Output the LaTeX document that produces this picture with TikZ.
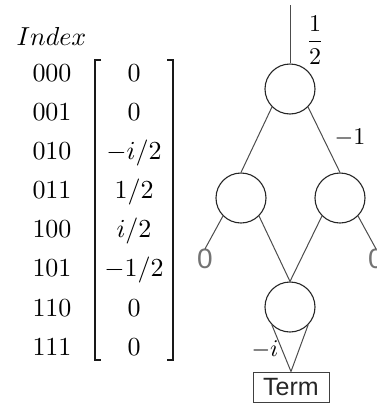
\documentclass[tikz,border=0pt]{standalone}
\usepackage{amsmath}
\usepackage{graphicx}
\usepackage{fontspec}
\newfontfamily\labelsans{Liberation Sans}
% math set at 10pt and enlarged, so the glyphs keep the 10pt design weight
\newcommand{\mbig}[1]{\scalebox{2.6}{$#1$}}
\newcommand{\mlbl}[1]{\scalebox{2.4}{$#1$}}
\tikzset{
  idx/.style={anchor=base, inner sep=0pt},
  val/.style={anchor=base, inner sep=0pt},
  ddnode/.style={circle, draw=black!85, line width=1.1pt, minimum size=50pt, inner sep=0pt},
  ddedge/.style={draw=black!70, line width=1pt},
  bracket/.style={draw=black!90, line width=1.8pt},
  zerolbl/.style={font=\labelsans\fontsize{28}{30}\selectfont, text=black!55, inner sep=0pt},
  termbox/.style={draw=black!75, line width=0.9pt, minimum width=76pt, minimum height=30pt,
    inner sep=0pt, font=\labelsans\fontsize{25}{28}\selectfont, text=black!85},
  elbl/.style={inner sep=0pt}
}
\begin{document}
\begin{tikzpicture}[x=1pt, y=-1pt]
  \useasboundingbox (0,0) rectangle (376,408);

  % amplitude vector with basis-state indices
  \node[idx] (title) at (51.5,45) {\mbig{Index}};
  \foreach \lab/\v [count=\k from 0] in {000/{0}, 001/{0}, 010/{-i/2}, 011/{1/2}, 100/{i/2}, 101/{-1/2}, 110/{0}, 111/{0}} {
    \node[idx] (i\k) at (52, 73+39.1*\k+8.4) {\mbig{\lab}};
    \node[val] (v\k) at (134, 73+39.1*\k+8.4) {\mbig{\v}};
  }
  \draw[bracket] (101,60) -- (95,60) -- (95,360) -- (101,360);
  \draw[bracket] (167,60) -- (173,60) -- (173,360) -- (167,360);

  % decision diagram
  \coordinate (root) at (290,5);
  \node[ddnode] (q0) at (290,89) {};
  \node[ddnode] (qa) at (241,198) {};
  \node[ddnode] (qb) at (340,198) {};
  \node[ddnode] (q2) at (290,307) {};
  \node[termbox] (term) at (291,387) {Term};
  \node[zerolbl] (z0) at (205,259) {0};
  \node[zerolbl] (z1) at (376,259) {0};

  \draw[ddedge] (root) -- (q0.north);
  \draw[ddedge] (q0.south west) -- (qa.north);
  \draw[ddedge] (q0.south east) -- (qb.north);
  \draw[ddedge] (qa.south west) -- (z0.north);
  \draw[ddedge] (qa.south east) -- (q2.north);
  \draw[ddedge] (qb.south west) -- (q2.north);
  \draw[ddedge] (qb.south east) -- (z1.north);
  \draw[ddedge] (q2.south west) -- (term.north);
  \draw[ddedge] (q2.south east) -- (term.north);

  \node[elbl] (w0) at (315,40) {\mlbl{\dfrac{1}{2}}};
  \node[elbl] (w1) at (350,138) {\mlbl{-1}};
  \node[elbl] (w2) at (265,350) {\mlbl{-i}};
\end{tikzpicture}
\end{document}
